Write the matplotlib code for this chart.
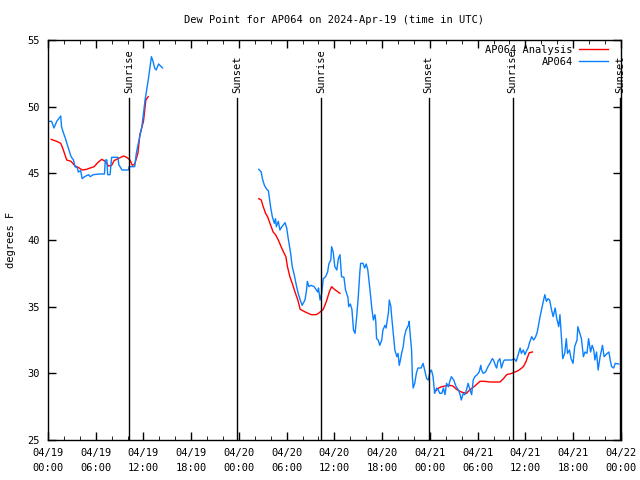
import numpy as np
import matplotlib
matplotlib.use("Agg")
import matplotlib.pyplot as plt

# hours since 2024-04-19 00:00 UTC
BLUE = "#0a80ff"
RED = "#ff0000"

blue_t1 = [0, 0.45, 0.75, 1.1, 1.6, 1.7, 1.9, 2.2, 2.5, 2.9, 3.2, 3.4, 3.7, 3.8, 4.1,
           4.3, 4.6, 5.1, 5.3, 5.7, 6.5, 7.1, 7.2, 7.4, 7.5, 7.8, 8.0, 8.8, 8.9, 9.3,
           10.1, 10.2, 10.5, 10.9, 11.1, 11.35, 11.8, 12.2, 12.6, 13.0, 13.2, 13.4,
           13.6, 13.9, 14.4]
blue_v1 = [48.9, 48.9, 48.4, 48.9, 49.3, 48.5, 48.1, 47.6, 47.0, 46.25, 46.0, 45.5,
           45.4, 45.1, 45.2, 44.6, 44.75, 44.9, 44.75, 44.9, 44.95, 44.95, 46.0, 46.0,
           44.9, 44.9, 46.2, 46.2, 45.65, 45.25, 45.25, 45.5, 45.5, 45.5, 46.5, 47.25,
           48.5, 50.5, 52.0, 53.75, 53.4, 52.9, 52.75, 53.2, 52.9]

blue_t2 = [26.5, 26.8, 26.95, 27.2, 27.5, 27.7, 27.8, 28.0, 28.2, 28.45, 28.6, 28.7,
           28.95, 29.15, 29.4, 29.8, 30.0, 30.2, 30.5, 30.7, 30.95, 31.25, 31.45, 31.7,
           31.95, 32.3, 32.5, 32.6, 32.8, 33.05, 33.45, 33.9, 34.0, 34.2, 34.4, 34.6,
           34.9, 35.15, 35.3, 35.55, 35.65, 35.85, 36.05, 36.3, 36.5, 36.7, 36.9, 37.2,
           37.4, 37.7, 37.8, 38.0, 38.2, 38.4, 38.6, 38.8, 39.0, 39.2, 39.3, 39.6, 39.8,
           40.0, 40.2, 40.5, 40.7, 40.9, 41.1, 41.2, 41.3, 41.5, 41.7, 41.95, 42.1,
           42.35, 42.5, 42.8, 42.9, 43.1, 43.2, 43.4, 43.6, 43.85, 44.0, 44.15, 44.3,
           44.45, 44.65, 44.8, 45.0, 45.3, 45.4, 45.55, 45.7, 45.8, 45.9, 46.1, 46.3,
           46.5, 46.9, 47.15, 47.4, 47.6, 47.8, 48.0, 48.2, 48.4, 48.6, 48.85, 49.05,
           49.25, 49.5, 49.7, 49.9, 50.1, 50.35, 50.5, 50.7, 51.0, 51.3, 51.6, 51.8,
           51.95, 52.2, 52.4, 52.6, 52.8, 53.05, 53.25, 53.45, 53.65, 53.95, 54.2, 54.4,
           54.5, 54.7, 55.0, 55.3, 55.6, 55.85, 56.0, 56.3, 56.4, 56.55, 56.8, 57.0,
           57.25, 57.4, 57.85, 58.3, 58.6, 58.85, 59.1, 59.35, 59.5, 59.75, 59.95, 60.2,
           60.35, 60.5, 60.8, 61.05, 61.3, 61.5, 61.7, 61.85, 62.15, 62.45, 62.65,
           62.85, 63.05, 63.3, 63.5, 63.75, 63.95, 64.2, 64.35, 64.55, 64.7, 64.95,
           65.15, 65.3, 65.55, 65.75, 66.0, 66.2, 66.5, 66.6, 66.85, 67.05, 67.3, 67.5,
           67.75, 67.95, 68.2, 68.4, 68.6, 68.75, 68.95, 69.15, 69.4, 69.7, 69.9, 70.3,
           70.5, 70.7, 70.85, 71.1, 71.3, 71.75]
blue_v2 = [45.3, 45.1, 44.6, 44.1, 43.8, 43.7, 43.25, 42.4, 41.75, 41.25, 41.6, 41.0,
           41.4, 40.75, 41.0, 41.3, 40.9, 40.1, 39.0, 38.0, 37.4, 36.5, 36.0, 35.5,
           35.1, 35.5, 36.25, 36.9, 36.5, 36.6, 36.5, 36.1, 36.4, 35.5, 36.0, 37.1,
           37.25, 37.6, 38.2, 38.5, 39.5, 39.1, 38.0, 37.75, 38.6, 38.9, 37.25, 37.2,
           36.25, 35.7, 35.0, 35.2, 34.8, 33.25, 33.0, 34.25, 35.75, 37.6, 38.25, 38.25,
           37.9, 38.2, 37.75, 36.1, 34.9, 34.0, 34.4, 33.9, 32.6, 32.5, 32.1, 32.5,
           33.25, 33.6, 33.4, 34.6, 35.5, 35.0, 34.25, 33.0, 31.75, 31.25, 31.5, 30.6,
           31.0, 31.5, 32.0, 32.75, 33.25, 33.6, 33.9, 32.75, 31.75, 29.75, 28.9, 29.25,
           30.0, 30.4, 30.4, 30.75, 30.1, 29.6, 29.5, 30.1, 30.25, 29.75, 28.5, 28.9,
           28.75, 28.5, 28.5, 28.9, 28.4, 29.25, 29.0, 29.4, 29.75, 29.5, 29.0, 28.75,
           28.4, 28.0, 28.5, 28.4, 28.75, 29.25, 28.75, 28.4, 29.5, 29.75, 29.9, 30.1,
           30.6, 30.25, 30.0, 30.1, 30.5, 30.8, 31.1, 31.0, 30.5, 30.4, 30.9, 31.1,
           30.4, 30.9, 31.0, 31.0, 31.0, 31.1, 30.9, 31.4, 31.9, 31.5, 31.75, 31.4,
           31.75, 31.9, 32.25, 32.75, 32.5, 32.75, 33.1, 33.75, 34.25, 35.1, 35.9, 35.4,
           35.6, 35.5, 34.75, 34.25, 34.9, 34.1, 33.5, 34.4, 32.6, 31.1, 31.5, 32.6,
           31.5, 31.75, 31.1, 30.75, 32.0, 32.5, 33.5, 33.0, 32.6, 31.25, 31.6, 31.5,
           32.6, 31.6, 32.1, 31.75, 31.0, 31.6, 30.25, 31.25, 32.1, 31.25, 31.5, 31.6,
           30.9, 30.5, 30.4, 30.75, 30.7]

red_t1 = [0.4, 1.1, 1.6, 1.9, 2.35, 2.9, 3.4, 3.8, 4.3, 4.85, 5.3, 5.8, 6.25, 6.75,
          7.2, 7.6, 8.0, 8.3, 8.8, 9.5, 9.9, 10.3, 10.6, 10.9, 11.3, 11.55, 12.0, 12.3,
          12.6]
red_v1 = [47.55, 47.4, 47.25, 46.8, 46.0, 45.9, 45.55, 45.45, 45.25, 45.3, 45.4, 45.5,
          45.8, 46.05, 45.9, 45.55, 45.6, 45.95, 46.1, 46.3, 46.2, 46.0, 45.6, 45.7,
          46.5, 47.9, 48.9, 50.5, 50.75]

red_t2 = [26.5, 26.8, 27.05, 27.35, 27.6, 27.9, 28.3, 28.6, 28.95, 29.3, 29.6, 29.9,
          30.1, 30.4, 30.7, 31.05, 31.4, 31.7, 32.5, 33.1, 33.7, 34.0, 34.6, 35.0,
          35.35, 35.65, 36.0, 36.7]
red_v2 = [43.1, 43.0, 42.5, 42.0, 41.75, 41.25, 40.6, 40.4, 40.0, 39.5, 39.1, 38.75,
          38.0, 37.25, 36.75, 36.1, 35.5, 34.8, 34.55, 34.4, 34.4, 34.5, 34.8, 35.4,
          36.1, 36.5, 36.3, 36.0]

red_t3 = [48.6, 49.1, 49.5, 49.9, 50.5, 50.9, 51.35, 51.95, 52.6, 53.0, 53.65, 54.3,
          54.9, 55.55, 56.8, 57.25, 57.65, 58.3, 58.7, 59.1, 59.55, 59.8, 60.1, 60.3,
          60.5, 60.9]
red_v3 = [28.6, 28.9, 29.0, 29.05, 29.1, 29.05, 28.8, 28.6, 28.5, 28.75, 29.05, 29.4,
          29.4, 29.35, 29.35, 29.6, 29.9, 30.0, 30.1, 30.2, 30.4, 30.55, 30.9, 31.25,
          31.55, 31.6]

sun_t = [10.2, 23.75, 34.3, 47.85, 58.4, 71.95]
sun_lbl = ["Sunrise", "Sunset", "Sunrise", "Sunset", "Sunrise", "Sunset"]

x_ticks = list(range(0, 73, 6))
x_labels = ["04/19\n00:00", "04/19\n06:00", "04/19\n12:00", "04/19\n18:00",
            "04/20\n00:00", "04/20\n06:00", "04/20\n12:00", "04/20\n18:00",
            "04/21\n00:00", "04/21\n06:00", "04/21\n12:00", "04/21\n18:00",
            "04/22\n00:00"]
y_ticks = [25, 30, 35, 40, 45, 50, 55]

plt.rcParams["font.family"] = "DejaVu Sans Mono"

fig = plt.figure(figsize=(6.4, 4.8), dpi=100)
ax = fig.add_axes([0.075, 0.0833, 0.895, 0.8334])

ax.plot(red_t1, red_v1, color=RED, lw=1, label="AP064 Analysis")
ax.plot(red_t2, red_v2, color=RED, lw=1)
ax.plot(red_t3, red_v3, color=RED, lw=1)
ax.plot(blue_t1, blue_v1, color=BLUE, lw=1, label="AP064")
ax.plot(blue_t2, blue_v2, color=BLUE, lw=1)

for t, lbl in zip(sun_t, sun_lbl):
    ax.plot([t, t], [25, 50.65], color="black", lw=1)
    ax.text(t, 51.0, lbl, rotation=90, ha="center", va="bottom", fontsize=7.5)

ax.set_xlim(0, 72)
ax.set_ylim(25, 55)
ax.set_xticks(x_ticks)
ax.set_xticklabels(x_labels, fontsize=7.5, linespacing=1.6)
ax.set_xticks(range(0, 73, 2), minor=True)
ax.set_yticks(y_ticks)
ax.set_yticklabels([str(v) for v in y_ticks], fontsize=7.5)
ax.tick_params(direction="in", top=True, right=True, length=6, width=1, pad=6)
ax.tick_params(which="minor", direction="in", top=True, right=True, length=3)
for s in ax.spines.values():
    s.set_linewidth(1)

ax.set_ylabel("degrees F", fontsize=7.5, labelpad=8)
ax.set_title("Dew Point for AP064 on 2024-Apr-19 (time in UTC)", fontsize=7.5, pad=12)

leg = ax.legend(loc="upper right", fontsize=7.5, frameon=False, markerfirst=False,
                handlelength=2.8, handletextpad=0.6, borderaxespad=0.0,
                labelspacing=0.2, bbox_to_anchor=(0.985, 0.998))
for t in leg.get_texts():
    t.set_ha("right")

fig.savefig("out.png", dpi=100)
